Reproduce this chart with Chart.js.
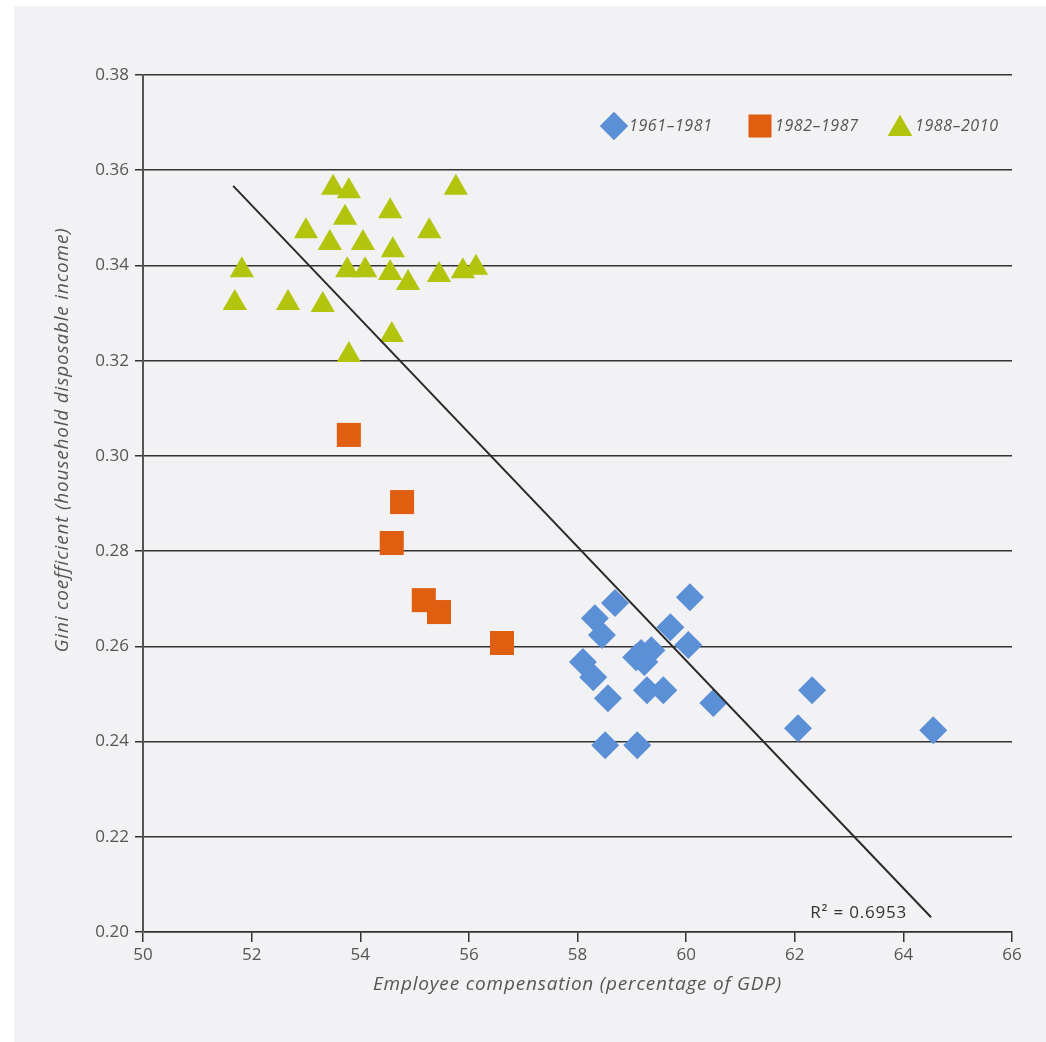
<!DOCTYPE html>
<html>
<head>
<meta charset="utf-8">
<script src="https://cdn.jsdelivr.net/npm/chart.js@4"></script>
<style>
    html, body { margin: 0; padding: 0; background: #fff; }
    #wrap { width: 1046px; height: 1042px; position: relative; }
</style>
</head>
<body>
<div id="wrap"><canvas id="giniChart" width="1046" height="1042"></canvas></div>
<script>
// 1961-1981 (diamonds)
const earlyX = [60.07, 58.69, 58.32, 58.45, 59.71, 60.04, 59.08, 59.36, 59.23, 59.17, 58.10,
    58.29, 58.56, 59.28, 59.58, 60.50, 62.32, 62.06, 58.51, 59.10, 64.55];
const earlyY = [0.2703, 0.2691, 0.2659, 0.2624, 0.2640, 0.2603, 0.2577, 0.2592, 0.2567, 0.2586, 0.2567,
    0.2535, 0.2491, 0.2508, 0.2508, 0.2481, 0.2508, 0.2428, 0.2392, 0.2392, 0.2424];

// 1982-1987 (squares)
const midX = [53.79, 54.77, 54.58, 55.17, 55.45, 56.61];
const midY = [0.3044, 0.2903, 0.2817, 0.2697, 0.2672, 0.2607];

// 1988-2010 (triangles)
const lateX = [53.50, 53.79, 55.76, 54.55, 53.72, 53.00, 55.27, 53.44, 54.05, 54.60, 51.82, 53.76,
    54.09, 54.55, 54.88, 55.45, 55.89, 56.13, 51.69, 52.67, 53.31, 54.58, 53.79];
const lateY = [0.3563, 0.3556, 0.3563, 0.3514, 0.3500, 0.3472, 0.3472, 0.3447, 0.3447, 0.3432, 0.3390, 0.3390,
    0.3390, 0.3384, 0.3363, 0.3380, 0.3388, 0.3395, 0.3321, 0.3321, 0.3317, 0.3254, 0.3212];

// linear trend line end points
const trendX = [51.66, 64.51];
const trendY = [0.3567, 0.2031];
const rSquared = 'R² = 0.6953';

const seriesLabels = ['1961–1981', '1982–1987', '1988–2010'];
const xTicks = [50, 52, 54, 56, 58, 60, 62, 64, 66];
const yTicks = [0.20, 0.22, 0.24, 0.26, 0.28, 0.30, 0.32, 0.34, 0.36, 0.38];
const xTitle = 'Employee compensation (percentage of GDP)';
const yTitle = 'Gini coefficient (household disposable income)';

const blue = '#5b90d7';
const orange = '#e05e10';
const green = '#b3c40d';

const toPoints = (xs, ys) => xs.map((x, i) => ({ x: x, y: ys[i] }));

const fontFamily = '"Open Sans", "DejaVu Sans", sans-serif';

const panelBg = {
    id: 'panelBg',
    beforeDraw(chart) {
        const ctx = chart.ctx;
        ctx.save();
        ctx.fillStyle = '#ffffff';
        ctx.fillRect(0, 0, chart.width, chart.height);
        ctx.fillStyle = '#f2f1f3';
        ctx.fillRect(14, 6, chart.width - 14, chart.height - 6);
        ctx.restore();
    }
};

const legendAndLabels = {
    id: 'legendAndLabels',
    afterDraw(chart) {
        const ctx = chart.ctx;
        const area = chart.chartArea;
        const items = [
            { style: 'rectRot', radius: 14, color: blue, x: area.right - 398 },
            { style: 'rect', radius: 16, color: orange, x: area.right - 252 },
            { style: 'triangle', radius: 14, color: green, x: area.right - 112 }
        ];
        const y = area.top + 51;
        ctx.save();
        items.forEach((it, i) => {
            ctx.fillStyle = it.color;
            Chart.helpers.drawPoint(ctx, { pointStyle: it.style, radius: it.radius, rotation: 0, borderWidth: 0 },
                it.x, it.style === 'triangle' ? y + 3 : y);
            ctx.fill();
            ctx.fillStyle = '#555';
            ctx.font = 'italic 16px ' + fontFamily;
            ctx.letterSpacing = '0.6px';
            ctx.textAlign = 'left';
            ctx.textBaseline = 'middle';
            ctx.fillText(seriesLabels[i], it.x + 15, y);
        });

        // R squared label next to the end of the trend line
        const xs = chart.scales.x, ys = chart.scales.y;
        const ex = xs.getPixelForValue(trendX[1]);
        const ey = ys.getPixelForValue(trendY[1]);
        ctx.fillStyle = '#333';
        ctx.font = '17px ' + fontFamily;
        ctx.letterSpacing = '0.8px';
        ctx.textAlign = 'right';
        ctx.textBaseline = 'middle';
        ctx.fillText(rSquared, ex - 24, ey - 4);

        // axis titles
        ctx.fillStyle = '#555';
        ctx.font = 'italic 19px ' + fontFamily;
        ctx.letterSpacing = '0.8px';
        ctx.textAlign = 'center';
        ctx.textBaseline = 'middle';
        ctx.fillText(xTitle, (area.left + area.right) / 2, area.bottom + 53);
        ctx.translate(area.left - 80, area.top + 365);
        ctx.rotate(-Math.PI / 2);
        ctx.fillText(yTitle, 0, 0);
        ctx.restore();
    }
};

new Chart(document.getElementById('giniChart').getContext('2d'), {
    type: 'scatter',
    data: {
        datasets: [
            {
                label: 'Trend',
                type: 'line',
                data: toPoints(trendX, trendY),
                borderColor: '#2b2b2b',
                borderWidth: 2,
                pointRadius: 0,
                fill: false,
                order: 0
            },
            {
                label: seriesLabels[0],
                data: toPoints(earlyX, earlyY),
                pointStyle: 'rectRot',
                pointRadius: 14,
                backgroundColor: blue,
                borderWidth: 0,
                order: 1
            },
            {
                label: seriesLabels[1],
                data: toPoints(midX, midY),
                pointStyle: 'rect',
                pointRadius: 17,
                backgroundColor: orange,
                borderWidth: 0,
                order: 1
            },
            {
                label: seriesLabels[2],
                data: toPoints(lateX, lateY),
                pointStyle: 'triangle',
                pointRadius: 14,
                backgroundColor: green,
                borderWidth: 0,
                order: 1
            }
        ]
    },
    options: {
        responsive: false,
        animation: false,
        layout: { padding: { top: 75, right: 34, bottom: 0, left: 0 } },
        plugins: {
            legend: { display: false },
            tooltip: { enabled: false }
        },
        scales: {
            x: {
                type: 'linear',
                min: xTicks[0],
                max: xTicks[xTicks.length - 1],
                afterBuildTicks: (scale) => { scale.ticks = xTicks.map(v => ({ value: v })); },
                afterFit: (scale) => { scale.height = 110; },
                grid: {
                    drawOnChartArea: false,
                    drawTicks: true,
                    tickLength: 10,
                    color: '#333',
                    lineWidth: 1.5
                },
                border: { color: '#333', width: 1.5 },
                ticks: {
                    padding: 3,
                    color: '#555',
                    font: { family: fontFamily, size: 17 },
                    callback: (v) => v
                }
            },
            y: {
                type: 'linear',
                min: yTicks[0],
                max: yTicks[yTicks.length - 1],
                afterBuildTicks: (scale) => { scale.ticks = yTicks.map(v => ({ value: v })); },
                afterFit: (scale) => { scale.width = 143; },
                grid: {
                    drawTicks: true,
                    tickLength: 8,
                    color: '#333',
                    lineWidth: 1.5
                },
                border: { color: '#555', width: 2 },
                ticks: {
                    padding: 6,
                    color: '#555',
                    font: { family: fontFamily, size: 17 },
                    callback: (v) => Number(v).toFixed(2)
                }
            }
        }
    },
    plugins: [panelBg, legendAndLabels]
});
</script>
</body>
</html>
